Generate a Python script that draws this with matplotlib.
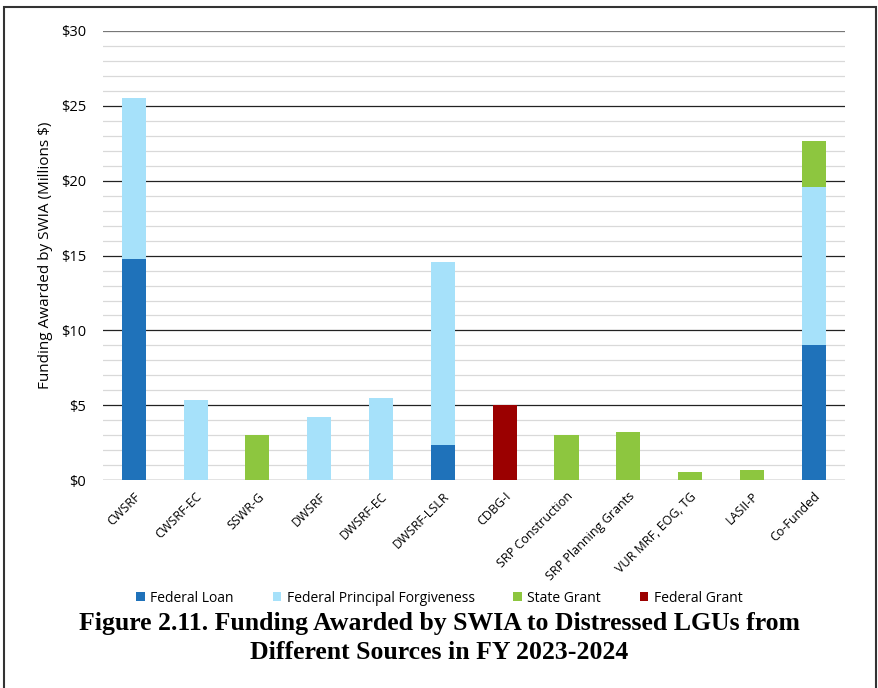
import matplotlib
matplotlib.use("Agg")
import matplotlib.pyplot as plt
import matplotlib.patches as patches
import numpy as np

categories = ["CWSRF", "CWSRF-EC", "SSWR-G", "DWSRF", "DWSRF-EC", "DWSRF-LSLR",
              "CDBG-I", "SRP Construction", "SRP Planning Grants",
              "VUR MRF, EOG, TG", "LASII-P", "Co-Funded"]
federal_loan = [14.8, 0, 0, 0, 0, 2.35, 0, 0, 0, 0, 0, 9.0]
principal_forgiveness = [10.75, 5.35, 0, 4.25, 5.5, 12.25, 0, 0, 0, 0, 0, 10.6]
state_grant = [0, 0, 3.0, 0, 0, 0, 0, 3.0, 3.2, 0.52, 0.7, 3.05]
federal_grant = [0, 0, 0, 0, 0, 0, 5.0, 0, 0, 0, 0, 0]
y_ticks = [0, 5, 10, 15, 20, 25, 30]

fig = plt.figure(figsize=(8.79, 6.88), dpi=100)
ax = fig.add_axes([0.117, 0.302, 0.844, 0.653])

x = np.arange(len(categories))
w = 0.39
bottom = np.zeros(len(categories))
series = [("Federal Loan", federal_loan, "#1F72BA"),
          ("Federal Principal Forgiveness", principal_forgiveness, "#A6E1FA"),
          ("State Grant", state_grant, "#8DC63F"),
          ("Federal Grant", federal_grant, "#9B0000")]
for name, vals, col in series:
    vals = np.array(vals)
    ax.bar(x, vals, w, bottom=bottom, color=col, label=name, zorder=3)
    bottom += vals

ax.set_xlim(-0.5, len(categories) - 0.5)
ax.set_ylim(0, 30)
ax.set_yticks(y_ticks)
ax.set_yticklabels([f"${v}" for v in y_ticks], fontsize=10.5, family="Open Sans")
ax.set_yticks(np.arange(0, 31, 1), minor=True)
ax.grid(which="minor", axis="y", color="#D9D9D9", lw=0.9, zorder=1)
ax.grid(which="major", axis="y", color="#222222", lw=0.9, zorder=2)
ax.get_ygridlines()[-1].set_color("#777777")
ax.tick_params(which="both", length=0)
ax.tick_params(axis="y", pad=12)
ax.set_xticks(x)
ax.set_xticklabels(categories, rotation=45, ha="right", rotation_mode="anchor",
                   fontsize=9, family="Open Sans")
ax.tick_params(axis="x", pad=7)
for s in ax.spines.values():
    s.set_visible(False)
ax.set_ylabel("Funding Awarded by SWIA (Millions $)", fontsize=11, family="Open Sans", labelpad=6)

fig.legend(loc="center", bbox_to_anchor=(0.5, 1 - 598 / 688), ncol=4, frameon=False,
           prop={"family": "Open Sans", "size": 10}, handlelength=0.6, handleheight=0.6,
           handletextpad=0.4, columnspacing=2.8)

fig.text(0.5, 1 - 638 / 688, "Figure 2.11. Funding Awarded by SWIA to Distressed LGUs from\nDifferent Sources in FY 2023-2024",
         ha="center", va="center", fontsize=18.5, fontweight="bold", family="Liberation Serif",
         linespacing=1.35)

fig.patches.append(patches.Rectangle((0.004, -0.02), 0.993, 1.01, transform=fig.transFigure,
                                     fill=False, ec="#333333", lw=1.5))

fig.savefig("out.png", dpi=100)
